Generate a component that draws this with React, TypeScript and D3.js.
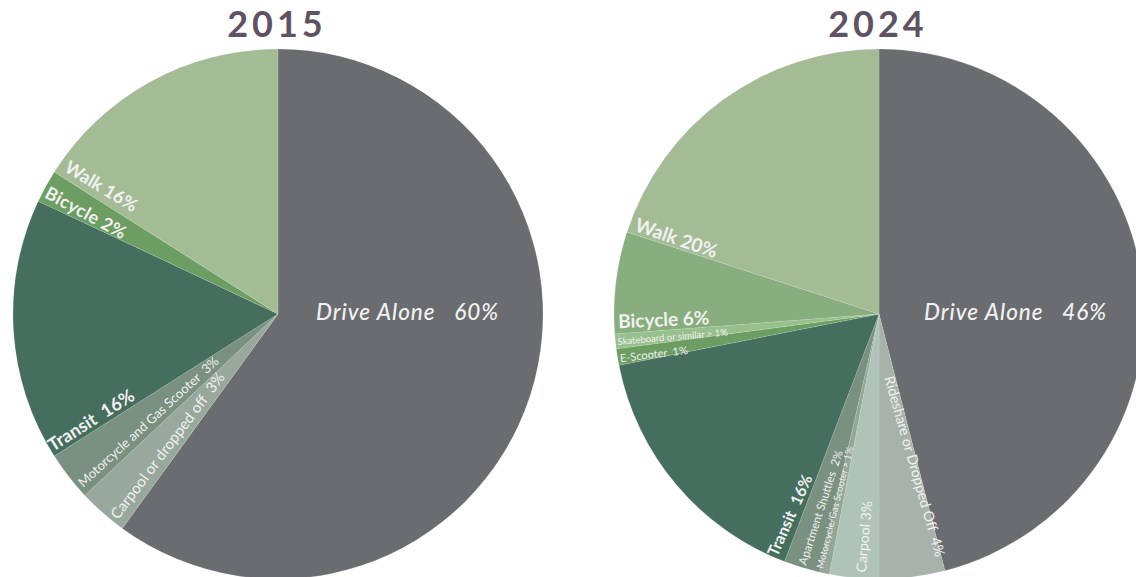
import * as d3 from 'd3';
import React, { FC, useEffect, useRef } from 'react';

const years = ['2015', '2024'];

const modes2015 = ['Drive Alone', 'Carpool or dropped off', 'Motorcycle and Gas Scooter', 'Transit', 'Bicycle', 'Walk'];
const values2015 = [60, 3, 3, 16, 2, 16];
const labels2015 = ['Drive Alone   60%', 'Carpool or dropped off  3%', 'Motorcycle and Gas Scooter  3%', 'Transit  16%', 'Bicycle 2%', 'Walk 16%'];
const colors2015 = ['#6b6c70', '#98a89d', '#7a9181', '#466e5e', '#6c9e63', '#a3bc96'];

const modes2024 = [
	'Drive Alone',
	'Rideshare or Dropped Off',
	'Carpool',
	'Motorcycle/Gas Scooter',
	'Apartment Shuttles',
	'Transit',
	'E-Scooter',
	'Skateboard or similar',
	'Bicycle',
	'Walk',
];
const values2024 = [46, 4, 3, 0.6, 2.2, 16.1, 1, 0.9, 6.2, 20];
const labels2024 = [
	'Drive Alone   46%',
	'Rideshare or Dropped Off  4%',
	'Carpool 3%',
	'Motorcycle/Gas Scooter > 1%',
	'Apartment Shuttles  2%',
	'Transit  16%',
	'E-Scooter  1%',
	'Skateboard or similar > 1%',
	'Bicycle 6%',
	'Walk 20%',
];
const colors2024 = ['#6b6c70', '#a8b2ab', '#afc3b8', '#93a697', '#7a9181', '#466e5e', '#6c9e63', '#97c08c', '#88ad7e', '#a3bc96'];

// label placement: off = degrees past slice start, r = radius of baseline start, rot = text rotation
interface LabelPos {
	off: number;
	r: number;
	rot: number;
	size: number;
	weight: number;
	italic?: boolean;
	spacing?: number;
}

const layout2015: LabelPos[] = [
	{ off: 99, r: 38.5, rot: 0, size: 22.5, weight: 500, italic: true, spacing: 1 },
	{ off: 1.8, r: 261, rot: -53, size: 15, weight: 400 },
	{ off: 1.5, r: 261, rot: -42.5, size: 13, weight: 400 },
	{ off: 0.9, r: 264, rot: -32.5, size: 18, weight: 700 },
	{ off: 1.3, r: 262, rot: 28.5, size: 18, weight: 700, spacing: 0.3 },
	{ off: 1.3, r: 258, rot: 31, size: 18, weight: 700 },
];

const layout2024: LabelPos[] = [
	{ off: 97.6, r: 45.4, rot: 0, size: 22.5, weight: 500, italic: true, spacing: 1 },
	{ off: 9.9, r: 64, rot: 74, size: 14.2, weight: 400 },
	{ off: 2.9, r: 259, rot: -85, size: 14, weight: 400 },
	{ off: 1.6, r: 261, rot: -76, size: 9.5, weight: 400 },
	{ off: 3.2, r: 262, rot: -72, size: 11.5, weight: 400 },
	{ off: 1.8, r: 264, rot: -66, size: 16, weight: 700 },
	{ off: 0.6, r: 263, rot: -7, size: 11, weight: 400 },
	{ off: 0.8, r: 263, rot: -5, size: 9.5, weight: 400 },
	{ off: 1.2, r: 261, rot: -2.5, size: 19, weight: 700 },
	{ off: 0.8, r: 259, rot: 19, size: 19, weight: 700 },
];

const width = 1136;
const height = 577;
const radius = 265;
const centers = [
	{ x: 278, y: 314 },
	{ x: 879, y: 314 },
];

const App: FC = () => {
	const ref = useRef<SVGSVGElement>(null);

	useEffect(() => {
		const svg = d3.select(ref.current);
		svg.selectAll('*').remove();

		const sets = [
			{ modes: modes2015, values: values2015, labels: labels2015, colors: colors2015, layout: layout2015 },
			{ modes: modes2024, values: values2024, labels: labels2024, colors: colors2024, layout: layout2024 },
		];

		const pie = d3
			.pie<number>()
			.sort(null)
			.value((d) => d);
		const arc = d3.arc<d3.PieArcDatum<number>>().innerRadius(0).outerRadius(radius);
		const font = 'Lato, "Open Sans", sans-serif';

		sets.forEach((s, k) => {
			const c = centers[k];
			const g = svg.append('g').attr('transform', `translate(${c.x},${c.y})`);
			const arcs = pie(s.values);

			g.selectAll('path')
				.data(arcs)
				.join('path')
				.attr('d', arc as any)
				.attr('fill', (d, i) => s.colors[i])
				.attr('stroke', 'rgba(255,255,255,0.25)')
				.attr('stroke-width', 0.5)
				.append('title')
				.text((d, i) => s.modes[i]);

			g.selectAll('text.lbl')
				.data(arcs)
				.join('text')
				.attr('class', 'lbl')
				.attr('transform', (d, i) => {
					const p = s.layout[i];
					const a = d.startAngle + (p.off * Math.PI) / 180;
					const x = p.r * Math.sin(a);
					const y = -p.r * Math.cos(a);
					return `translate(${x},${y}) rotate(${p.rot})`;
				})
				.attr('font-family', font)
				.attr('font-size', (d, i) => s.layout[i].size)
				.attr('font-weight', (d, i) => s.layout[i].weight)
				.attr('font-style', (d, i) => (s.layout[i].italic ? 'italic' : 'normal'))
				.attr('letter-spacing', (d, i) => s.layout[i].spacing ?? 0)
				.attr('fill', '#f1f1f1')
				.style('white-space', 'pre')
				.text((d, i) => s.labels[i]);

			svg.append('text')
				.attr('x', c.x - 1)
				.attr('y', 37)
				.attr('text-anchor', 'middle')
				.attr('font-family', font)
				.attr('font-size', 36)
				.attr('font-weight', 700)
				.attr('letter-spacing', 4)
				.attr('fill', '#5e5263')
				.text(years[k]);
		});
	}, []);

	return (
		<svg
			ref={ref}
			width={width}
			height={height}
			style={{ position: 'absolute', left: 0, top: 0, background: '#fff' }}
		/>
	);
};

export default App;
